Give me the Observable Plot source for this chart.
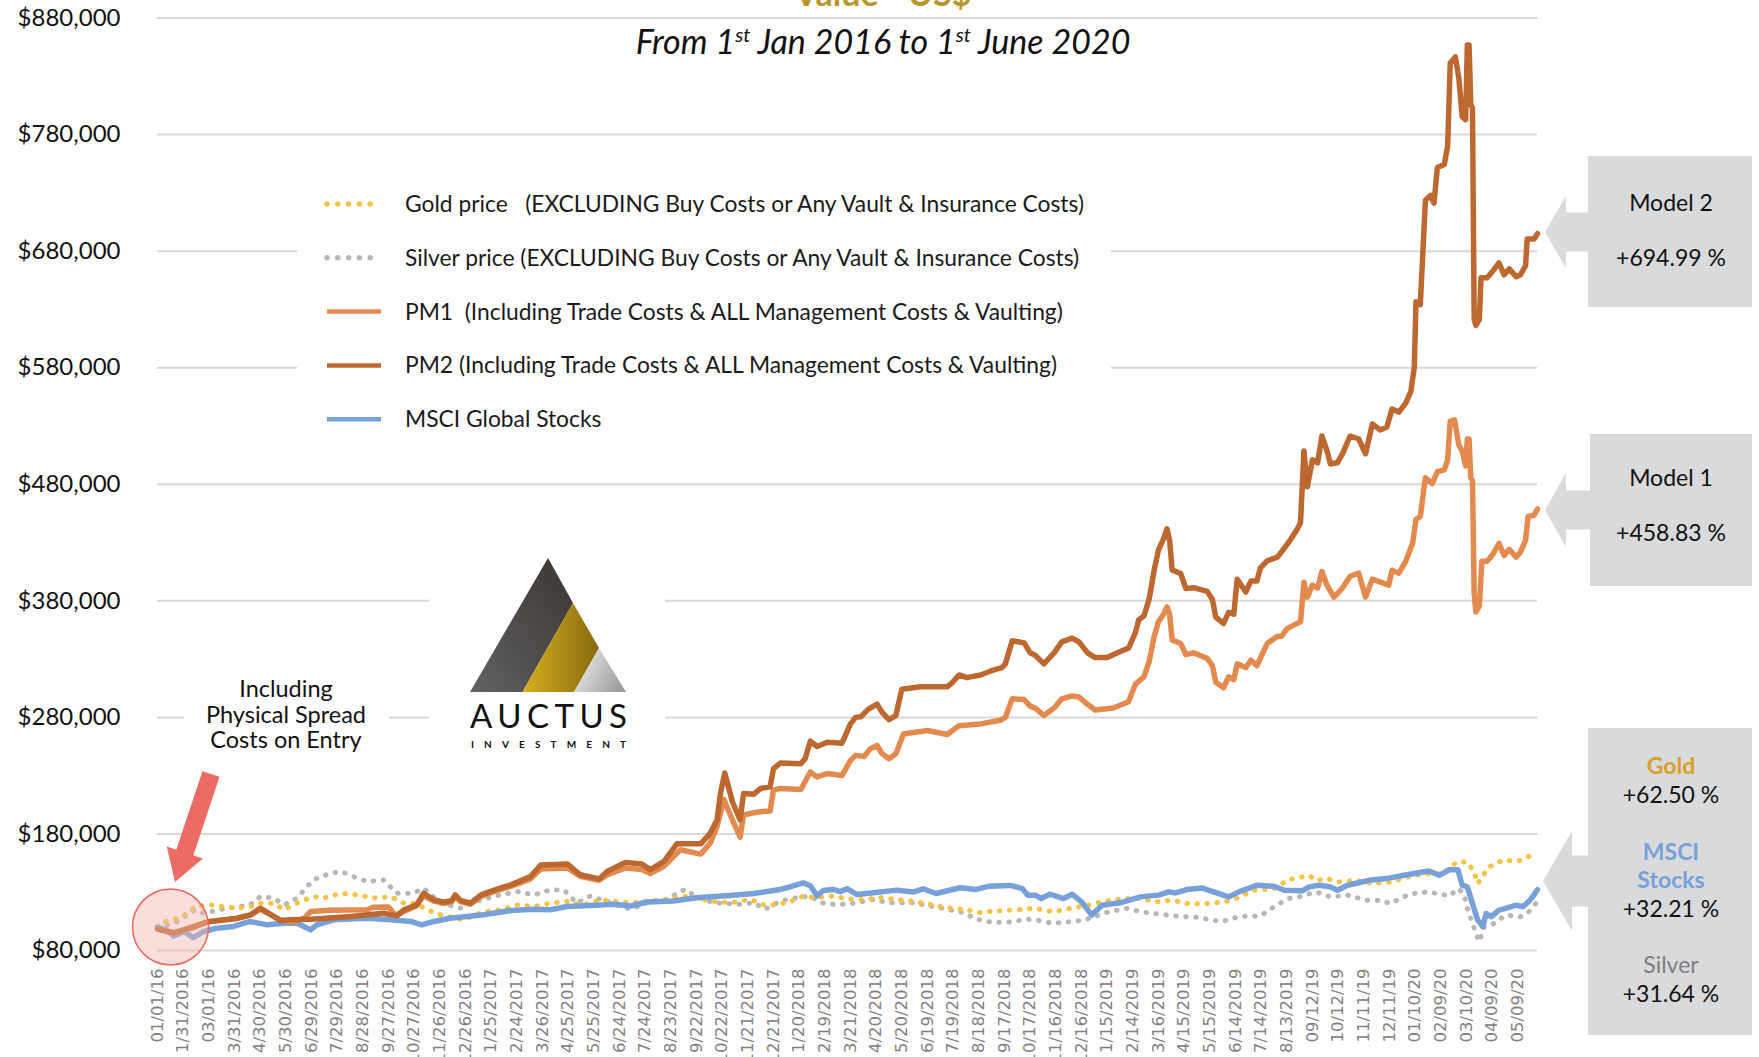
<!DOCTYPE html>
<html><head><meta charset="utf-8">
<script src="https://cdn.jsdelivr.net/npm/d3@7"></script>
<script src="https://cdn.jsdelivr.net/npm/@observablehq/plot@0.6"></script>
<style>html,body{margin:0;padding:0;background:#fff;overflow:hidden;} svg{display:block}</style>
</head><body><div id="chart"></div>
<script>
// ---- data: [days since 1 Jan 2016, value in US$ thousands] ----
const pm2 = [[0,98.3],[19,94.9],[42,100.6],[62,104.9],[93,107.7],[109,110.6],[120,116.3],[144,105.7],[155,106.3],[179,106.9],[226,109.1],[264,112],[280,109.7],[288,114.9],[303,119.1],[311,129.1],[323,123.4],[335,121.4],[344,122.9],[348,127.7],[354,122.9],[366,120.6],[378,127.7],[397,132.6],[413,136.3],[436,143.4],[448,153.4],[479,154.3],[494,145],[516,141.4],[526,148],[547,155.6],[566,154.2],[576,149.4],[592,156.5],[607,171.5],[635,171.5],[646,180.6],[654,192],[658,214.7],[663,232.3],[672,207.6],[681,192],[685,214.7],[697,214.1],[705,219],[716,220.4],[720,236],[728,240.8],[752,240.3],[757,244.5],[763,259.6],[771,255],[783,258.7],[800,257.9],[810,274.4],[816,280],[822,280.6],[831,287.1],[841,291.4],[847,284.3],[855,278],[863,281.5],[870,304.2],[892,306.2],[923,306.2],[929,309.9],[937,316.4],[946,314.1],[962,316.4],[974,319.8],[987,322.6],[991,325.9],[999,345.8],[1013,343.9],[1020,335.4],[1026,333.2],[1036,325.9],[1048,335.4],[1057,344.8],[1069,348],[1077,344.8],[1087,335.4],[1096,331.3],[1110,331.3],[1122,335.4],[1135,339.5],[1143,352.7],[1147,363.8],[1153,366.9],[1159,381.2],[1165,406.4],[1170,423.8],[1176,433.3],[1180,441.8],[1183,431.7],[1186,406.4],[1196,403.3],[1202,390.6],[1211,391.3],[1227,388.1],[1233,381.2],[1237,366],[1246,360.6],[1252,370.1],[1258,368.5],[1262,398.5],[1272,387.5],[1278,396.9],[1285,396.9],[1289,408],[1297,414.3],[1309,417.5],[1314,422.2],[1322,430.1],[1332,441.2],[1336,447],[1340,508.6],[1344,477.9],[1350,501],[1356,498.4],[1361,521.4],[1367,508.6],[1371,497.4],[1379,498.4],[1385,506.1],[1394,521.4],[1404,518.9],[1412,506.1],[1420,531.7],[1429,526.6],[1437,529.1],[1443,544.5],[1451,541.9],[1459,549.6],[1465,559.8],[1469,580.3],[1471,636.6],[1476,634.1],[1482,723.7],[1488,727.8],[1492,721.1],[1496,751.8],[1504,754.4],[1508,769.8],[1511,841.4],[1517,846.6],[1521,828.6],[1525,795.4],[1529,792.8],[1531,856.8],[1533,856.8],[1535,805.6],[1537,803],[1539,621.3],[1541,616.2],[1545,621.3],[1547,657.1],[1554,657.1],[1560,662.2],[1568,669.9],[1574,659.7],[1580,664.8],[1588,658.1],[1593,659.7],[1599,667.4],[1601,690.4],[1609,690.4],[1613,695]];
const pm1 = [[0,98.3],[19,95.5],[42,99.5],[55,104],[62,105],[93,107.5],[109,110.5],[120,115.5],[144,106],[160,104.5],[172,108],[179,113.5],[200,114.6],[245,115],[252,117],[270,117.3],[278,110.5],[288,113.5],[303,118.5],[311,127],[323,122.5],[335,120.5],[344,122],[348,126.5],[354,122],[366,119.8],[378,126.5],[397,131.5],[413,135],[436,141.5],[448,150],[479,150.8],[494,143.7],[516,140.3],[526,145],[547,150.8],[566,149.4],[576,146],[592,152.2],[611,166.4],[635,162.7],[646,172.1],[654,186.3],[662,209.6],[672,192],[681,177.2],[685,196.3],[697,198.2],[705,199.1],[716,199.7],[720,217.6],[728,219],[752,218.1],[763,233.2],[771,228.9],[783,231.8],[800,230.1],[810,243.1],[816,247.4],[826,246.5],[833,253],[841,255.9],[847,248.8],[855,244.5],[863,248.8],[872,265.8],[900,268.7],[923,265.3],[937,272.9],[962,274.4],[985,277.5],[991,280.1],[999,295.9],[1013,295.3],[1020,289.6],[1026,288],[1036,281.7],[1048,288],[1057,295.9],[1069,298.4],[1077,297.5],[1087,291.2],[1096,286.4],[1117,288],[1135,293.4],[1143,308.5],[1153,314.8],[1159,327.5],[1165,349.6],[1170,362.2],[1176,368.5],[1180,374.8],[1183,368.5],[1186,346.4],[1196,343.3],[1202,333.8],[1211,335.4],[1227,330.6],[1233,324.3],[1237,310.1],[1246,305.4],[1252,314.8],[1258,312.3],[1262,325.9],[1272,322.7],[1278,329],[1285,324.3],[1297,343.3],[1309,349.6],[1314,349.6],[1320,355.9],[1332,360.6],[1336,362],[1340,396],[1344,383.2],[1350,393.4],[1356,390.9],[1361,405.2],[1367,393.4],[1375,383.2],[1385,390.9],[1394,401.1],[1404,403.7],[1412,383.2],[1420,398.6],[1439,393.4],[1443,406.2],[1451,403.7],[1459,413.9],[1467,429.3],[1471,449.8],[1476,452.3],[1482,485.6],[1490,480.5],[1496,490.7],[1504,492.3],[1508,500.9],[1511,534.2],[1516,535.3],[1521,513.8],[1525,508.6],[1529,495.8],[1531,518.9],[1533,518.9],[1535,485.6],[1537,483],[1539,385.8],[1541,370.4],[1545,375.5],[1548,413.9],[1554,413.9],[1560,419],[1568,429.3],[1574,419],[1580,424.2],[1588,417.5],[1593,421.6],[1599,431.8],[1602,452.3],[1609,453.4],[1613,458.8]];
const msci = [[0,100],[10,97.7],[19,92.5],[31,96.3],[42,91],[54,96.3],[69,99.1],[89,100.6],[108,104.9],[128,102],[148,103.4],[163,103.4],[171,100.6],[179,97.7],[186,102],[206,106.3],[245,107.7],[272,106.3],[296,104.9],[309,102],[323,104.9],[342,107.7],[381,110.6],[413,114.3],[440,115.4],[459,114.9],[479,117.7],[518,119.1],[533,119.6],[553,118.2],[572,121.6],[603,122.4],[630,125.3],[669,127.2],[697,128.9],[728,132.4],[739,134.5],[755,138],[763,135.5],[771,126.7],[778,131.5],[790,132.4],[798,130.5],[806,133],[817,128.1],[837,129.5],[864,131.8],[883,130.1],[895,132.9],[910,128.9],[938,133.8],[957,132.4],[972,135.2],[997,135.8],[1011,133.1],[1017,127.5],[1026,127.5],[1033,124.6],[1043,128.3],[1059,124.6],[1069,128.3],[1080,121.8],[1092,110.4],[1104,118.9],[1125,120.9],[1149,126],[1170,127.5],[1182,130.3],[1190,129.4],[1203,132.3],[1221,133.7],[1231,131.2],[1252,126],[1264,130.3],[1285,136],[1305,135.1],[1317,131.7],[1338,131.2],[1346,134.6],[1358,136],[1371,134.6],[1379,131.7],[1391,136],[1416,140.2],[1436,141.7],[1457,144.5],[1486,148.2],[1498,144.5],[1510,149.3],[1520,149.3],[1525,136],[1531,134.6],[1537,120.4],[1543,106.2],[1549,100.5],[1553,111.8],[1559,109],[1568,114.7],[1576,116.1],[1588,118.9],[1596,117.5],[1604,123],[1609,128],[1613,132.2]];
const gold = [[0,100],[10,104.9],[29,109.1],[44,117.7],[62,119.1],[77,117.7],[93,116.3],[109,117.7],[120,120.6],[136,120.6],[148,114.9],[163,120.6],[182,126.3],[194,124.9],[214,129.1],[233,127.7],[256,124.9],[272,126.3],[288,120.6],[303,120.6],[315,114.9],[331,110.6],[358,106.3],[381,113.4],[401,114.9],[421,119.1],[440,117.7],[459,120.6],[479,122],[498,119.1],[518,123.4],[553,121],[592,123.8],[619,126.7],[646,122.4],[669,121],[693,123.8],[712,118.2],[736,121],[755,126.7],[767,125.3],[790,126.7],[806,124.4],[825,123.8],[845,125.3],[864,123.8],[883,122.4],[903,119.6],[923,116.7],[942,115.3],[962,112.5],[977,113.9],[1000,114.7],[1026,116.1],[1047,113.3],[1067,116.1],[1088,118.9],[1104,121.8],[1129,124.6],[1149,124.6],[1166,121.8],[1186,123.2],[1207,119.8],[1227,120.4],[1248,121.8],[1264,125.5],[1281,131.7],[1305,133.1],[1322,140.8],[1338,143.1],[1346,144.5],[1354,140.2],[1367,141.7],[1379,138.8],[1400,140.2],[1420,137.4],[1441,138.8],[1461,143.1],[1482,145.9],[1502,145.9],[1519,155.9],[1531,155.9],[1539,147.3],[1543,137.4],[1556,151.6],[1572,157.3],[1593,157.3],[1609,163],[1613,162.5]];
const silver = [[0,100],[19,103],[44,115],[54,112],[81,116.3],[108,119],[120,126.3],[136,124.9],[148,119.1],[163,124.9],[182,140.6],[202,146.3],[215,147.7],[229,143.4],[245,139.1],[264,140.6],[280,129.1],[299,129.1],[311,133.4],[331,120.6],[354,116.3],[378,123.4],[401,127.7],[421,130.6],[440,127.7],[459,132],[475,132],[490,120.6],[506,126.7],[518,123.8],[553,115.3],[572,121],[596,123.8],[611,130.9],[619,132.3],[627,126.7],[650,121],[681,119.6],[697,121],[710,115.3],[728,122.4],[747,125.3],[763,126.7],[775,121],[790,119.6],[806,119.6],[837,123.8],[853,121],[883,121],[903,118.2],[923,115.3],[942,112.5],[957,106.8],[977,104],[997,104.5],[1017,106.8],[1026,106.2],[1047,103.3],[1067,104.7],[1084,106.2],[1112,113.3],[1133,116.1],[1149,113.3],[1170,111.3],[1190,109.6],[1215,108.4],[1244,104.7],[1264,109],[1289,109.6],[1305,117.5],[1322,124.6],[1334,126],[1354,130.3],[1371,126],[1391,127.5],[1412,123.2],[1428,123.2],[1441,120.4],[1461,127.5],[1477,130.3],[1498,128.9],[1510,126.6],[1520,133.1],[1527,128.9],[1531,116.1],[1541,94.8],[1545,87.7],[1551,100.5],[1559,101.9],[1576,110.4],[1593,109],[1603,113.3],[1609,118.9],[1613,122]];
const yTicks = [80000,180000,280000,380000,480000,580000,680000,780000,880000];
const xTickLabels = ["01/01/16","1/31/2016","03/01/16","3/31/2016","4/30/2016","5/30/2016","6/29/2016","7/29/2016","8/28/2016","9/27/2016","10/27/2016","11/26/2016","12/26/2016","1/25/2017","2/24/2017","3/26/2017","4/25/2017","5/25/2017","6/24/2017","7/24/2017","8/23/2017","9/22/2017","10/22/2017","11/21/2017","12/21/2017","1/20/2018","2/19/2018","3/21/2018","4/20/2018","5/20/2018","6/19/2018","7/19/2018","8/18/2018","9/17/2018","10/17/2018","11/16/2018","12/16/2018","1/15/2019","2/14/2019","3/16/2019","4/15/2019","5/15/2019","6/14/2019","7/14/2019","8/13/2019","09/12/19","10/12/19","11/11/19","12/11/19","01/10/20","02/09/20","03/10/20","04/09/20","05/09/20"];
const legendItems = [
  {label:"Gold price   (EXCLUDING Buy Costs or Any Vault & Insurance Costs)", color:"#f6c344", dotted:true},
  {label:"Silver price (EXCLUDING Buy Costs or Any Vault & Insurance Costs)", color:"#b9b7b5", dotted:true},
  {label:"PM1  (Including Trade Costs & ALL Management Costs & Vaulting)", color:"#e38b4f", dotted:false},
  {label:"PM2 (Including Trade Costs & ALL Management Costs & Vaulting)", color:"#bd6830", dotted:false},
  {label:"MSCI Global Stocks", color:"#77a1d8", dotted:false}
];

(function () {
const t0 = Date.UTC(2016,0,1);
const toDate = d => new Date(t0 + d*86400000);
const rows = arr => arr.map(([d,v]) => ({date: toDate(d), value: v*1000}));
const parseLabel = s => { const [m,d,y] = s.split("/").map(Number); return new Date(Date.UTC(y < 100 ? 2000+y : y, m-1, d)); };
const xTicks = xTickLabels.map(s => ({date: parseLabel(s), label: s}));
const fmt = d3.format("$,");

const chart = Plot.plot({
  width: 1759, height: 1057,
  marginLeft: 157, marginRight: 222, marginTop: 17.5, marginBottom: 107,
  x: {type: "utc", domain: [new Date(t0), new Date(Date.UTC(2020,5,1))], axis: null},
  y: {domain: [80000, 880000], axis: null},
  style: {background: "#fff", overflow: "visible", fontFamily: "Lato"},
  marks: [
    Plot.gridY(yTicks, {stroke: "#dcd7d2", strokeOpacity: 1, strokeWidth: 2}),
    Plot.text(yTicks, {y: d => d, text: d => fmt(d), frameAnchor: "left", dx: -37, textAnchor: "end", lineAnchor: "middle", fontSize: 24, fill: "#111"}),
    Plot.lineY(rows(silver), {x: "date", y: "value", stroke: "#b9b7b5", strokeWidth: 5, strokeDasharray: "0.5 9.5", strokeLinecap: "round"}),
    Plot.lineY(rows(gold), {x: "date", y: "value", stroke: "#f6c344", strokeWidth: 5, strokeDasharray: "0.5 9.5", strokeLinecap: "round"}),
    Plot.lineY(rows(msci), {x: "date", y: "value", stroke: "#77a1d8", strokeWidth: 5.5}),
    Plot.lineY(rows(pm1), {x: "date", y: "value", stroke: "#e38b4f", strokeWidth: 5.5}),
    Plot.lineY(rows(pm2), {x: "date", y: "value", stroke: "#bd6830", strokeWidth: 5.5}),
    Plot.text(xTicks, {x: "date", text: "label", frameAnchor: "bottom", dy: 18, rotate: -90, textAnchor: "end", lineAnchor: "middle", fontSize: 16.5, fill: "#808080", fontFamily: "DejaVu Sans"})
  ]
});
document.getElementById("chart").appendChild(chart);

const svg = d3.select(chart);
const defs = svg.append("defs");
function grad(id, c1, c2, x1, y1, x2, y2) {
  const g = defs.append("linearGradient").attr("id", id).attr("x1", x1).attr("y1", y1).attr("x2", x2).attr("y2", y2);
  g.append("stop").attr("offset", "0%").attr("stop-color", c1);
  g.append("stop").attr("offset", "100%").attr("stop-color", c2);
}
grad("gDark", "#626262", "#3a3532", "0%", "100%", "100%", "0%");
grad("gGold", "#d8b01e", "#86690e", "0%", "50%", "100%", "50%");
grad("gLight", "#ececec", "#9b9b9b", "0%", "30%", "100%", "70%");

const under = svg.insert("g", "g[aria-label='line']").attr("text-anchor", "start").attr("font-family", "Lato");
under.append("rect").attr("x", 297).attr("y", 166).attr("width", 814).attr("height", 284).attr("fill", "#fff");
under.append("rect").attr("x", 429).attr("y", 548).attr("width", 236).attr("height", 212).attr("fill", "#fff");
under.append("rect").attr("x", 184).attr("y", 672).attr("width", 205).attr("height", 90).attr("fill", "#fff");

const lg = under.append("g");
legendItems.forEach((it, i) => {
  const y = 204 + i*53.8;
  const ln = lg.append("line").attr("x1", 327).attr("x2", 381).attr("y1", y).attr("y2", y)
    .attr("stroke", it.color).attr("stroke-width", it.dotted ? 5.5 : 4.5);
  if (it.dotted) ln.attr("stroke-dasharray", "0 10.8").attr("stroke-linecap", "round");
  lg.append("text").attr("x", 405).attr("y", y).attr("dy", "0.35em").attr("font-size", 22.8)
    .attr("fill", "#1a1a1a").style("white-space", "pre").text(it.label);
});

const ann = under.append("g").attr("font-size", 23.5).attr("fill", "#111").attr("text-anchor", "middle");
["Including", "Physical Spread", "Costs on Entry"].forEach((s, i) => ann.append("text").attr("x", 286).attr("y", 697 + i*25.5).text(s));

const logo = under.append("g");
logo.append("polygon").attr("points", "470,692 548,558 573,603 522.5,692").attr("fill", "url(#gDark)");
logo.append("polygon").attr("points", "522.5,692 573,603 599,648 574,692").attr("fill", "url(#gGold)");
logo.append("polygon").attr("points", "574,692 599,648 626,692").attr("fill", "url(#gLight)");
logo.append("text").attr("x", 470).attr("y", 728).attr("font-size", 33).attr("font-weight", 400).attr("fill", "#111")
  .attr("textLength", 157).attr("lengthAdjust", "spacing").text("AUCTUS");
logo.append("text").attr("x", 471).attr("y", 748).attr("font-size", 10).attr("font-weight", 700).attr("fill", "#111")
  .attr("textLength", 155).attr("lengthAdjust", "spacing").text("INVESTMENT");

const topG = svg.append("g").attr("font-family", "Lato");
topG.append("text").attr("x", 883).attr("y", 6).attr("text-anchor", "middle").attr("font-size", 34).attr("font-weight", 700)
  .attr("fill", "#b8962e").text("Value - US$");
const sub = topG.append("text").attr("x", 883).attr("y", 54).attr("text-anchor", "middle").attr("font-size", 34)
  .attr("font-style", "italic").attr("fill", "#111");
sub.append("tspan").text("From 1");
sub.append("tspan").attr("dy", -12).attr("font-size", 20).text("st");
sub.append("tspan").attr("dy", 12).text(" Jan 2016 to 1");
sub.append("tspan").attr("dy", -12).attr("font-size", 20).text("st");
sub.append("tspan").attr("dy", 12).text(" June 2020");

topG.append("circle").attr("cx", 170.5).attr("cy", 927).attr("r", 38).attr("fill", "#f4b5b0").attr("fill-opacity", 0.45)
  .attr("stroke", "#e8675d").attr("stroke-width", 1.5);
{
  const S = [211, 774], T = [175, 882];
  const L = Math.hypot(T[0]-S[0], T[1]-S[1]);
  const u = [(T[0]-S[0])/L, (T[1]-S[1])/L], n = [u[1], -u[0]];
  const H = [T[0]-31*u[0], T[1]-31*u[1]];
  const p = (b, k) => [b[0]+k*n[0], b[1]+k*n[1]];
  const pts = [p(S, 9), p(H, 9), p(H, 19), T, p(H, -19), p(H, -9), p(S, -9)];
  topG.append("polygon").attr("points", pts.map(q => q.join(",")).join(" ")).attr("fill", "#ec6b62");
}

const boxFill = "#d9dadb";
function callout(bx, by, bw, bh, tipX, tipY, headX, headHalf, shaftHalf) {
  topG.append("rect").attr("x", bx).attr("y", by).attr("width", bw).attr("height", bh).attr("fill", boxFill);
  const pts = [[tipX, tipY], [headX, tipY-headHalf], [headX, tipY-shaftHalf], [bx+1, tipY-shaftHalf], [bx+1, tipY+shaftHalf], [headX, tipY+shaftHalf], [headX, tipY+headHalf]];
  topG.append("polygon").attr("points", pts.map(q => q.join(",")).join(" ")).attr("fill", boxFill);
}
callout(1588, 156, 164, 151, 1545, 232, 1566, 36, 19.5);
callout(1590, 434, 162, 152, 1545, 510, 1566, 37, 19.5);
callout(1588, 728, 164, 307, 1543, 881, 1572, 50, 25.5);
const bt = topG.append("g").attr("text-anchor", "middle").attr("font-size", 23).attr("fill", "#111");
const lab = (y, s, color, weight) => bt.append("text").attr("x", 1671).attr("y", y).attr("fill", color || "#111").attr("font-weight", weight || 400).text(s);
lab(211, "Model 2"); lab(266, "+694.99 %");
lab(486, "Model 1"); lab(541, "+458.83 %");
lab(774, "Gold", "#d9a12b", 700); lab(803, "+62.50 %");
lab(860, "MSCI", "#77a1d8", 700); lab(888, "Stocks", "#77a1d8", 700); lab(917, "+32.21 %");
lab(973, "Silver", "#7f7f7f", 400); lab(1002, "+31.64 %");
})();
</script></body></html>
